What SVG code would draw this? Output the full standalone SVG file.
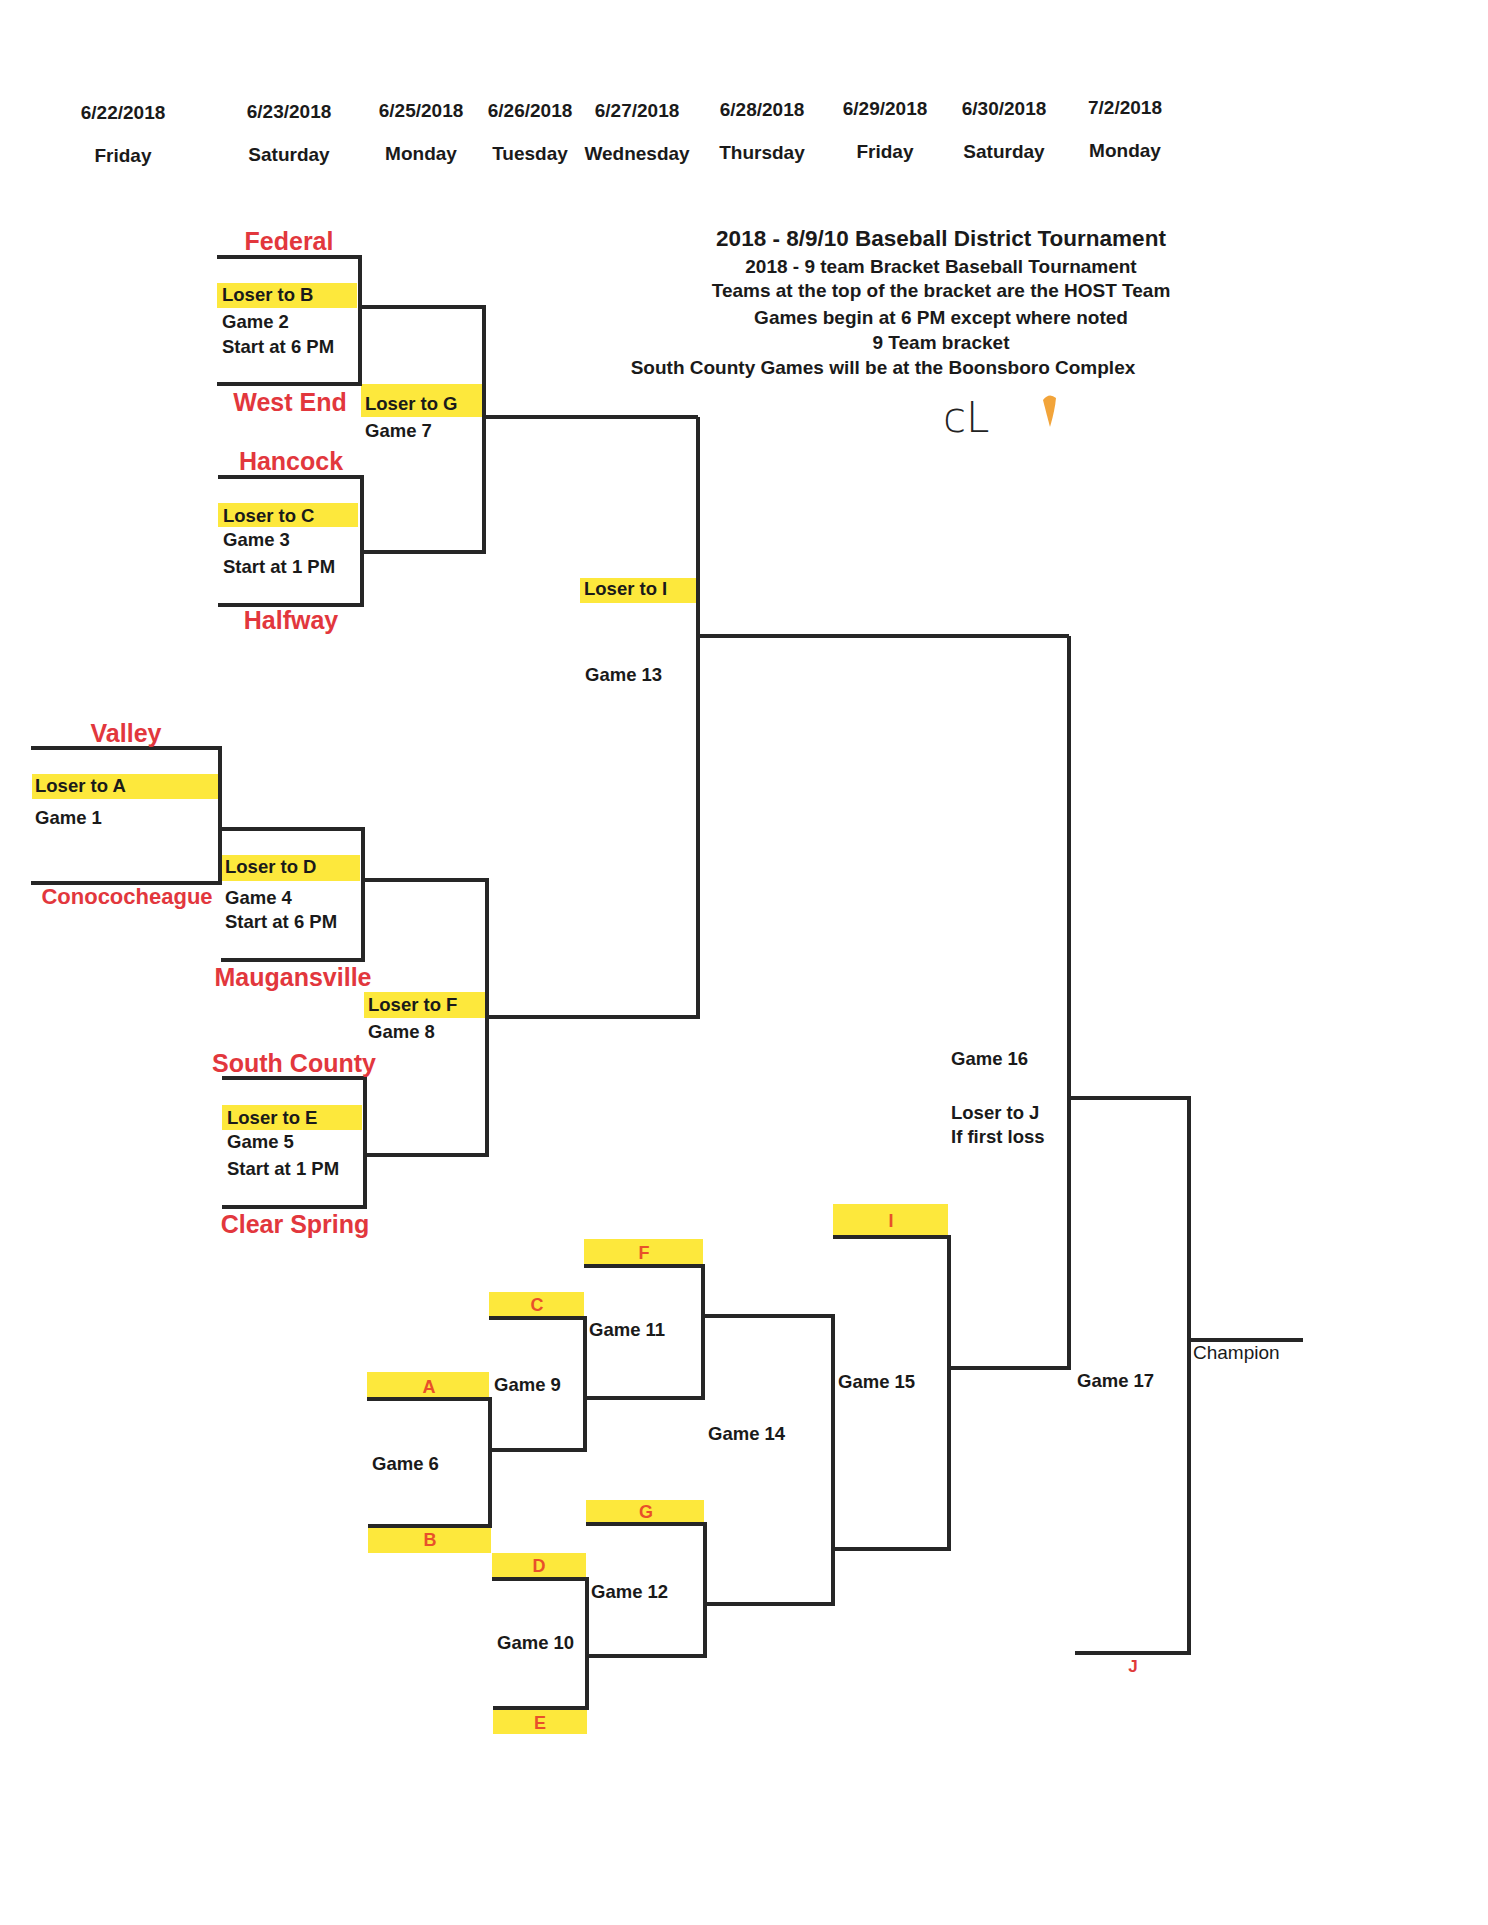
<svg xmlns="http://www.w3.org/2000/svg" width="1488" height="1925" viewBox="0 0 1488 1925">
<style>
text{font-family:"Liberation Sans",Arial,sans-serif}
.hd{font-size:19px;font-weight:bold;fill:#1a1a1a;text-anchor:middle}
.ti{font-size:22.5px;font-weight:bold;fill:#1a1a1a;text-anchor:middle}
.st{font-size:19px;font-weight:bold;fill:#1a1a1a;text-anchor:middle}
.tm{font-size:25px;font-weight:bold;fill:#e2373d;text-anchor:middle}
.lb{font-size:18.5px;font-weight:bold;fill:#1a1a1a}
.lt{font-size:18px;font-weight:bold;fill:#e8502a;text-anchor:middle}
.ch{font-size:19px;fill:#1a1a1a}
.yl{fill:#fde83c}
.ln{fill:none;stroke:#262626;stroke-width:4;stroke-linejoin:miter}
</style>
<rect width="1488" height="1925" fill="#ffffff"/>

<g id="header">
<text class="hd" x="123" y="119">6/22/2018</text>
<text class="hd" x="289" y="118">6/23/2018</text>
<text class="hd" x="421" y="117">6/25/2018</text>
<text class="hd" x="530" y="117">6/26/2018</text>
<text class="hd" x="637" y="117">6/27/2018</text>
<text class="hd" x="762" y="116">6/28/2018</text>
<text class="hd" x="885" y="115">6/29/2018</text>
<text class="hd" x="1004" y="115">6/30/2018</text>
<text class="hd" x="1125" y="114">7/2/2018</text>
<text class="hd" x="123" y="162">Friday</text>
<text class="hd" x="289" y="161">Saturday</text>
<text class="hd" x="421" y="160">Monday</text>
<text class="hd" x="530" y="160">Tuesday</text>
<text class="hd" x="637" y="160">Wednesday</text>
<text class="hd" x="762" y="159">Thursday</text>
<text class="hd" x="885" y="158">Friday</text>
<text class="hd" x="1004" y="158">Saturday</text>
<text class="hd" x="1125" y="157">Monday</text>
</g>

<g id="title">
<text class="ti" x="941" y="246">2018 - 8/9/10 Baseball District  Tournament</text>
<text class="st" x="941" y="273">2018 - 9 team Bracket Baseball Tournament</text>
<text class="st" x="941" y="297">Teams at the top of the bracket are the HOST Team</text>
<text class="st" x="941" y="324">Games begin at 6 PM except where noted</text>
<text class="st" x="941" y="349">9 Team bracket</text>
<text class="st" x="883" y="374">South County Games will be at the Boonsboro Complex</text>
<text x="943" y="432" style="font-family:'DejaVu Sans',sans-serif;font-size:42px;font-weight:200;fill:#222">cL</text>
<path d="M1043 400 Q1049 392 1056 398 Q1055 410 1050 427 Q1046 412 1043 400 Z" fill="#f2a43a"/>
</g>

<g id="yellow">
<rect class="yl" x="217" y="283" width="140" height="25"/>
<rect class="yl" x="361" y="384" width="121" height="33"/>
<rect class="yl" x="218" y="503" width="140" height="24"/>
<rect class="yl" x="580" y="578" width="117" height="25"/>
<rect class="yl" x="32" y="774" width="186" height="25"/>
<rect class="yl" x="222" y="855" width="138" height="26"/>
<rect class="yl" x="364" y="992" width="121" height="26"/>
<rect class="yl" x="222" y="1105" width="140" height="25"/>
<rect class="yl" x="367" y="1372" width="122" height="26"/>
<rect class="yl" x="368" y="1528" width="123" height="25"/>
<rect class="yl" x="489" y="1292" width="95" height="25"/>
<rect class="yl" x="492" y="1553" width="94" height="25"/>
<rect class="yl" x="493" y="1710" width="94" height="24"/>
<rect class="yl" x="584" y="1239" width="119" height="26"/>
<rect class="yl" x="586" y="1500" width="118" height="23"/>
<rect class="yl" x="833" y="1204" width="115" height="32"/>
</g>

<g id="connectors">
<path class="ln" d="M217 257 H360 V384 H217"/>
<path class="ln" d="M218 477 H362 V605 H218"/>
<path class="ln" d="M360 307 H484 V552 H362"/>
<path class="ln" d="M484 417 H698"/>
<path class="ln" d="M698 417 V1017 H487"/>
<path class="ln" d="M698 636 H1069"/>
<path class="ln" d="M31 748 H220 V883 H31"/>
<path class="ln" d="M220 829 H363 V960 H221"/>
<path class="ln" d="M222 1078 H365 V1207 H222"/>
<path class="ln" d="M363 880 H487 V1155 H365"/>
<path class="ln" d="M1069 636 V1368 H949"/>
<path class="ln" d="M1069 1098 H1189 V1653 H1075"/>
<path class="ln" d="M1189 1340 H1303"/>
<path class="ln" d="M833 1237 H949 V1549 H833"/>
<path class="ln" d="M703 1316 H833 V1604 H705"/>
<path class="ln" d="M584 1266 H703 V1398 H585"/>
<path class="ln" d="M489 1318 H585 V1450 H490"/>
<path class="ln" d="M367 1399 H490 V1526 H368"/>
<path class="ln" d="M586 1524 H705 V1656 H587"/>
<path class="ln" d="M492 1579 H587 V1708 H493"/>
</g>

<g id="game1">
<text class="tm" x="126" y="742">Valley</text>
<text class="lb" x="35" y="792">Loser to A</text>
<text class="lb" x="35" y="824">Game 1</text>
<text class="tm" x="127" y="904" style="font-size:22px">Conococheague</text>
</g>
<g id="game2">
<text class="tm" x="289" y="250">Federal</text>
<text class="lb" x="222" y="301">Loser to B</text>
<text class="lb" x="222" y="328">Game 2</text>
<text class="lb" x="222" y="353">Start at 6 PM</text>
<text class="tm" x="290" y="411">West End</text>
</g>
<g id="game3">
<text class="tm" x="291" y="470">Hancock</text>
<text class="lb" x="223" y="522">Loser to C</text>
<text class="lb" x="223" y="546">Game 3</text>
<text class="lb" x="223" y="573">Start at 1 PM</text>
<text class="tm" x="291" y="629">Halfway</text>
</g>
<g id="game4">
<text class="lb" x="225" y="873">Loser to D</text>
<text class="lb" x="225" y="904">Game 4</text>
<text class="lb" x="225" y="928">Start at 6 PM</text>
<text class="tm" x="293" y="986">Maugansville</text>
</g>
<g id="game5">
<text class="tm" x="294" y="1072">South County</text>
<text class="lb" x="227" y="1124">Loser to E</text>
<text class="lb" x="227" y="1148">Game 5</text>
<text class="lb" x="227" y="1175">Start at 1 PM</text>
<text class="tm" x="295" y="1233">Clear Spring</text>
</g>
<g id="game7">
<text class="lb" x="365" y="410">Loser to G</text>
<text class="lb" x="365" y="437">Game 7</text>
</g>
<g id="game8">
<text class="lb" x="368" y="1011">Loser to F</text>
<text class="lb" x="368" y="1038">Game 8</text>
</g>
<g id="game13">
<text class="lb" x="584" y="595">Loser to I</text>
<text class="lb" x="585" y="681">Game 13</text>
</g>
<g id="game6">
<text class="lt" x="429" y="1393">A</text>
<text class="lb" x="372" y="1470">Game 6</text>
<text class="lt" x="430" y="1546">B</text>
</g>
<g id="game9">
<text class="lt" x="537" y="1311">C</text>
<text class="lb" x="494" y="1391">Game 9</text>
</g>
<g id="game10">
<text class="lt" x="539" y="1572">D</text>
<text class="lb" x="497" y="1649">Game 10</text>
<text class="lt" x="540" y="1729">E</text>
</g>
<g id="game11">
<text class="lt" x="644" y="1259">F</text>
<text class="lb" x="589" y="1336">Game 11</text>
</g>
<g id="game12">
<text class="lt" x="646" y="1518">G</text>
<text class="lb" x="591" y="1598">Game 12</text>
</g>
<g id="game14">
<text class="lb" x="708" y="1440">Game 14</text>
</g>
<g id="game15">
<text class="lt" x="891" y="1227">I</text>
<text class="lb" x="838" y="1388">Game 15</text>
</g>
<g id="game16">
<text class="lb" x="951" y="1065">Game 16</text>
<text class="lb" x="951" y="1119">Loser to J</text>
<text class="lb" x="951" y="1143">If first loss</text>
</g>
<g id="game17">
<text class="lb" x="1077" y="1387">Game 17</text>
<text class="lt" x="1133" y="1672" style="font-size:17px;fill:#e03a3a">J</text>
<text class="ch" x="1193" y="1359">Champion</text>
</g>
</svg>
